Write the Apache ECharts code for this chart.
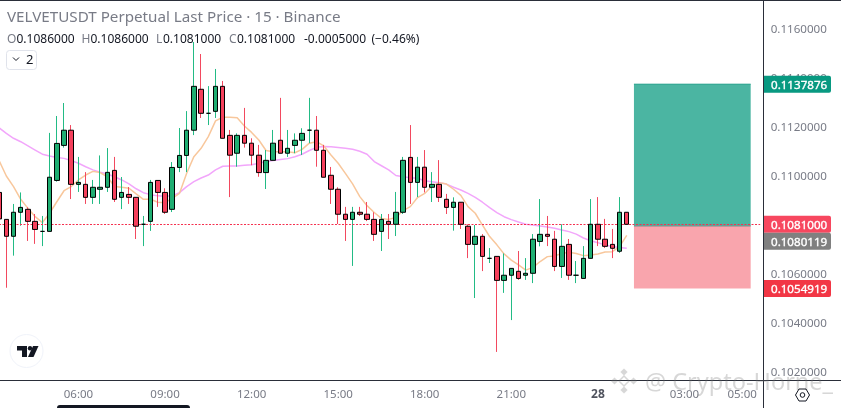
<!DOCTYPE html>
<html><head><meta charset="utf-8">
<style>html,body{margin:0;padding:0;background:#fff;overflow:hidden}#c{width:841px;height:408px}</style>
<script src="https://cdn.jsdelivr.net/npm/echarts@6/dist/echarts.min.js"></script>
</head><body><div id="c"></div>
<script>
const opens=[.10937,.10827,.10758,.10856,.10868,.10819,.10778,.10778,.10986,.11129,.11191,.10970,.10970,.10917,.10950,.10958,.11027,.10917,.10929,.10917,.10807,.10819,.10986,.10937,.10868,.11039,.11088,.11191,.11358,.11260,.11268,.11370,.11170,.11097,.11170,.11138,.11089,.11018,.11068,.11150,.11097,.11129,.11150,.11191,.11191,.11109,.11007,.10950,.10848,.10827,.10856,.10848,.10827,.10778,.10819,.10807,.10856,.11080,.10978,.11040,.10958,.10970,.10909,.10876,.10897,.10799,.10725,.10758,.10668,.10676,.10578,.10599,.10615,.10599,.10607,.10737,.10766,.10746,.10635,.10725,.10599,.10586,.10668,.10807,.10746,.10725,.10697,.10856];
const closes=[.10829,.10758,.10856,.10876,.10819,.10786,.10778,.10999,.11137,.11191,.10970,.10978,.10917,.10958,.10958,.11019,.10909,.10937,.10917,.10799,.10807,.10978,.10937,.10856,.11039,.11088,.11191,.11370,.11260,.11260,.11370,.11158,.11089,.11170,.11138,.11089,.11018,.11068,.11138,.11097,.11117,.11150,.11178,.11191,.11109,.10999,.10950,.10848,.10827,.10856,.10848,.10827,.10766,.10827,.10807,.10856,.11068,.10978,.11040,.10958,.10970,.10917,.10876,.10897,.10807,.10725,.10758,.10676,.10668,.10578,.10599,.10627,.10586,.10607,.10746,.10766,.10758,.10635,.10717,.10599,.10599,.10668,.10807,.10746,.10717,.10709,.10856,.10807];
const highs=[.10961,.10827,.10890,.10937,.10876,.10849,.10841,.11180,.11249,.11302,.11212,.11082,.11020,.10988,.11088,.11118,.11082,.11000,.10959,.10917,.10841,.10988,.10986,.10954,.11061,.11200,.11269,.11551,.11502,.11371,.11441,.11392,.11192,.11178,.11282,.11158,.11131,.11110,.11192,.11323,.11192,.11178,.11199,.11323,.11249,.11131,.11041,.10958,.10878,.10878,.10878,.10898,.10856,.10849,.10849,.10939,.11082,.11212,.11082,.11110,.11020,.11069,.10931,.10917,.10897,.10807,.10804,.10767,.10710,.10676,.10688,.10627,.10698,.10669,.10767,.10910,.10841,.10780,.10807,.10747,.10657,.10718,.10910,.10918,.10829,.10788,.10918,.10856];
const lows=[.10797,.10548,.10679,.10801,.10739,.10727,.10718,.10778,.10981,.11120,.10910,.10939,.10890,.10890,.10890,.10939,.10898,.10869,.10890,.10747,.10718,.10780,.10878,.10849,.10857,.11020,.11020,.11171,.11241,.11212,.11241,.11158,.10918,.11042,.11120,.11048,.11001,.10951,.11068,.11097,.11082,.11097,.11090,.11138,.11042,.10999,.10890,.10808,.10739,.10637,.10841,.10820,.10739,.10698,.10747,.10759,.10849,.10890,.10918,.10937,.10898,.10898,.10849,.10781,.10788,.10669,.10506,.10616,.10649,.10286,.10527,.10416,.10580,.10580,.10567,.10717,.10718,.10616,.10588,.10580,.10567,.10586,.10668,.10718,.10710,.10669,.10690,.10807];
const maFast=[.11067,.11004,.10961,.10909,.10872,.10838,.10814,.10852,.10899,.10944,.10961,.10988,.11008,.11023,.11018,.11001,.10961,.10958,.10954,.10931,.10909,.10909,.10897,.10895,.10913,.10933,.11015,.11083,.11117,.11165,.11229,.11244,.11244,.11242,.11208,.11182,.11151,.11108,.11103,.11103,.11103,.11099,.11113,.11138,.11144,.11127,.11090,.11056,.11015,.10972,.10920,.10883,.10855,.10831,.10827,.10835,.10863,.10879,.10916,.10933,.10963,.10977,.10971,.10950,.10925,.10879,.10852,.10804,.10757,.10723,.10686,.10661,.10641,.10620,.10631,.10655,.10675,.10678,.10688,.10693,.10688,.10679,.10682,.10686,.10694,.10695,.10716,.10762];
const maSlow=[.11201,.11178,.11158,.11144,.11127,.11110,.11093,.11086,.11080,.11076,.11067,.11056,.11042,.11029,.11020,.11012,.11001,.10988,.10972,.10952,.10936,.10928,.10923,.10921,.10923,.10936,.10961,.10981,.10996,.11008,.11029,.11044,.11045,.11045,.11048,.11050,.11056,.11063,.11067,.11071,.11075,.11083,.11093,.11108,.11121,.11124,.11123,.11120,.11117,.11113,.11105,.11093,.11063,.11046,.11029,.11006,.11001,.10997,.10995,.10985,.10981,.10977,.10971,.10958,.10947,.10933,.10917,.10897,.10875,.10855,.10838,.10826,.10816,.10807,.10804,.10800,.10796,.10791,.10784,.10777,.10767,.10751,.10740,.10732,.10722,.10716,.10712,.10709];
const priceTicks=[.102,.104,.106,.11,.112,.114,.116];
const timeTicks=['06:00','09:00','12:00','15:00','18:00','21:00','28','03:00','05:00'];
const lastPrice=0.10807, entryPrice=0.1080, takeProfit=0.1137876, stopLoss=0.10545;
const positionSpan=[88,104.18];
const tags=[
 {text:'0.1137876',value:0.1137876,color:'#089981',shift:0},
 {text:'0.1081000',value:lastPrice,color:'#F7475F',shift:0},
 {text:'0.1080119',value:lastPrice,color:'#808080',shift:17},
 {text:'0.1054919',value:stopLoss,color:'#F23645',shift:0}];
const ohlcParts=[['O',7,0],['0.1086000',16.5,1],['H',81.5,0],['0.1086000',90.5,1],['L',156,0],['0.1081000',163,1],['C',229,0],['0.1081000',237,1],['-0.0005000',304,1],['(−0.46%)',371.5,1]];

const FONT='"Noto Sans"', GREY='#787B86', DARK='#2A2E39';
const categories=[];
for(let i=0;i<106;i++){
  const m=(3*60+15+i*15)%1440;
  categories.push(m===0?'28':String(Math.floor(m/60)).padStart(2,'0')+':'+String(m%60).padStart(2,'0'));
}
const GREEN='#1FAE72', RED='#F5405C', WG='#22BB85', WR='#F2495F';
const bodies=opens.map((o,i)=>[o,closes[i],Math.min(o,closes[i]),Math.max(o,closes[i])]);
const wicks=opens.map((o,i)=>closes[i]>=o?[lows[i],highs[i],lows[i],highs[i]]:[highs[i],lows[i],lows[i],highs[i]]);

const chart=echarts.init(document.getElementById('c'),null,{renderer:'canvas'});
chart.setOption({
 animation:false,backgroundColor:'#fff',
 grid:{left:-4.5,width:764.7,top:1,bottom:28,outerBoundsMode:'none',containLabel:false},
 xAxis:[{type:'category',data:categories,boundaryGap:true,axisLine:{show:false},axisTick:{show:false},splitLine:{show:false},
   axisLabel:{interval:(i,v)=>timeTicks.includes(v),margin:9,fontFamily:FONT,fontSize:11.5,color:GREY,hideOverlap:false,
     formatter:v=>v==='28'?'{b|28}':v,rich:{b:{fontFamily:FONT,fontSize:12,fontWeight:'bold',color:'#50535E'}}}},
   {type:'value',min:-0.5,max:105.5,show:false}],
 yAxis:{type:'value',position:'right',min:.1017143,max:.1171837,scale:true,splitLine:{show:false},axisLine:{show:false},axisTick:{show:false},
   axisLabel:{customValues:priceTicks,margin:10.5,padding:[2,0,0,0],fontFamily:FONT,fontSize:11.6,color:GREY,formatter:v=>v.toFixed(7)}},
 series:[
  {type:'line',xAxisIndex:1,data:[],silent:true,z:1,markArea:{silent:true,data:[
    [{coord:[positionSpan[0],takeProfit],itemStyle:{color:'#4BB5A2'}},{coord:[positionSpan[1],entryPrice]}],
    [{coord:[positionSpan[0],entryPrice],itemStyle:{color:'#F9A5AD'}},{coord:[positionSpan[1],stopLoss]}]]}},
  {type:'line',data:maSlow,showSymbol:false,smooth:false,lineStyle:{color:'#F2A6FB',width:1.5},z:2,silent:true},
  {type:'line',data:maFast,showSymbol:false,smooth:false,lineStyle:{color:'#F8C79C',width:1.5},z:3,silent:true,
   markLine:{silent:true,symbol:'none',precision:7,label:{show:false},lineStyle:{color:'#F5304F',opacity:1,type:[2,1.5],width:1.2},data:[{yAxis:lastPrice}]}},
  {type:'candlestick',data:wicks,barWidth:1,z:4,silent:true,itemStyle:{color:WG,color0:WR,borderColor:WG,borderColor0:WR,borderWidth:1}},
  {type:'candlestick',data:bodies,barWidth:5,z:5,silent:true,itemStyle:{color:GREEN,color0:RED,borderColor:'#000',borderColor0:'#000',borderColorDoji:'#000',borderWidth:1}}
 ]
});
const g=[];
g.push({type:'rect',shape:{x:0,y:0,width:841,height:1},style:{fill:DARK},z:50});
g.push({type:'rect',shape:{x:0,y:380,width:841,height:1},style:{fill:DARK},z:50});
g.push({type:'rect',shape:{x:763,y:0,width:1,height:408},style:{fill:DARK},z:50});
g.push({type:'rect',shape:{x:57,y:405,width:133,height:8,r:3},style:{fill:'#131722'},z:50});
g.push({type:'text',x:7,y:18,style:{text:'VELVETUSDT Perpetual Last Price · 15 · Binance',font:'15.2px '+FONT,fill:GREY,textVerticalAlign:'middle'},z:60});
ohlcParts.forEach(p=>g.push({type:'text',x:p[1],y:39.5,style:{text:p[0],font:'12px '+FONT,fill:p[2]?'#131722':GREY,textVerticalAlign:'middle'},z:60}));
g.push({type:'rect',shape:{x:6.5,y:50.5,width:30,height:19,r:3},style:{fill:'#fff',stroke:'#E0E3EB',lineWidth:1},z:60});
g.push({type:'polyline',shape:{points:[[13,57.5],[16,60.5],[19,57.5]]},style:{stroke:'#131722',lineWidth:1,fill:null},z:61});
g.push({type:'text',x:26,y:60,style:{text:'2',font:'13px '+FONT,fill:'#131722',textVerticalAlign:'middle'},z:61});
g.push({type:'circle',shape:{cx:26.5,cy:351,r:16.5},style:{fill:'#fff',stroke:'#F0F3FA',lineWidth:1},z:60});
g.push({type:'polygon',shape:{points:[[17,346],[27,346],[27,357],[22,357],[22,350.5],[17,350.5]]},style:{fill:'#131722'},z:61});
g.push({type:'circle',shape:{cx:30,cy:348.2,r:2.2},style:{fill:'#131722'},z:61});
g.push({type:'polygon',shape:{points:[[33,346],[38.5,346],[33.5,357],[28,357]]},style:{fill:'#131722'},z:61});
tags.forEach(t=>{
  const y=chart.convertToPixel({yAxisIndex:0},t.value)+t.shift;
  g.push({type:'rect',shape:{x:764,y:y-8.5,width:67,height:17,r:[0,2,2,0]},style:{fill:t.color},z:70});
  g.push({type:'text',x:771,y:y+1,style:{text:t.text,font:'11.6px '+FONT,fill:'#fff',stroke:'#fff',lineWidth:0.35,textVerticalAlign:'middle'},z:71});
});
const px=(x,y)=>chart.convertToPixel({xAxisIndex:1,yAxisIndex:0},[x,y]);
const tp=px(positionSpan[0],takeProfit),tpr=px(positionSpan[1],takeProfit);
g.push({type:'line',shape:{x1:tp[0],y1:tp[1],x2:tpr[0],y2:tpr[1]},style:{stroke:'#1E9E88',lineWidth:1},z:3});
const en=px(positionSpan[0],entryPrice),enr=px(positionSpan[1],entryPrice);
g.push({type:'line',shape:{x1:en[0],y1:en[1],x2:enr[0],y2:enr[1]},style:{stroke:'#7F8C8A',lineWidth:1},z:3});
// watermark
const wm='rgba(110,110,110,0.28)';
[[624,372,3.6],[614.5,381,3.6],[633.5,381,3.6],[624,390,3.6]].forEach(d=>g.push({type:'polygon',shape:{points:[[d[0],d[1]-d[2]],[d[0]+d[2],d[1]],[d[0],d[1]+d[2]],[d[0]-d[2],d[1]]]},style:{fill:wm},z:80}));
g.push({type:'polygon',shape:{points:[[624,376],[629,381],[624,386],[619,381]]},style:{fill:'none',stroke:wm,lineWidth:1.5},z:80});
g.push({type:'text',x:645,y:383,style:{text:'@ Crypto-Horne_',font:'23.5px '+FONT,fill:wm,textVerticalAlign:'middle'},z:80});
// settings gear
const hx=802.5,hy=395,hr=7;
g.push({type:'polygon',shape:{points:[[hx-hr,hy],[hx-hr/2,hy-6],[hx+hr/2,hy-6],[hx+hr,hy],[hx+hr/2,hy+6],[hx-hr/2,hy+6]]},style:{fill:'none',stroke:'#131722',lineWidth:1},z:80});
g.push({type:'circle',shape:{cx:hx,cy:hy,r:2.3},style:{fill:'none',stroke:'#131722',lineWidth:1},z:80});
chart.setOption({graphic:{elements:g}});
</script></body></html>
